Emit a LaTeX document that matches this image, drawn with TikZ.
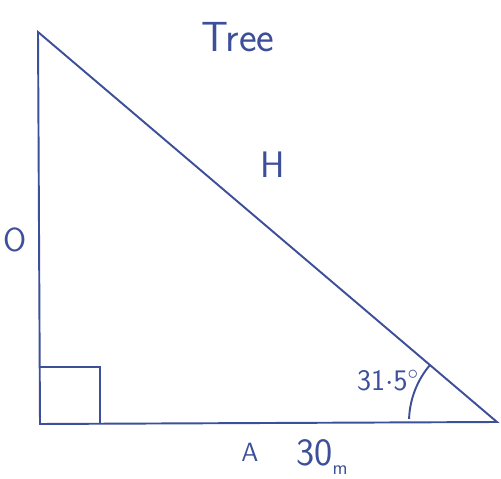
\documentclass[tikz,border=0pt]{standalone}
\usepackage{tikz}
\usetikzlibrary{positioning,calc}
\definecolor{ink}{HTML}{3C4F98}

\begin{document}
\begin{tikzpicture}[
			x=0.02cm, y=-0.02cm,
			side/.style={draw=ink,line width=1.1pt},
			lbl/.style={text=ink,font=\sffamily\fontsize{19}{21}\selectfont,inner sep=1pt}
			]
			\useasboundingbox (0,0) rectangle (501,479);
			\coordinate (top) at (38,32);
			\coordinate (bl) at (40,424);
			\coordinate (br) at (497,422);
			\draw[side] (top) -- (bl) -- (br) -- cycle;
			% right angle mark
			\draw[side] ($(bl)+(0,-57)$) -- ++(60,0) -- ++(0,57);
			% angle arc
			\draw[side] ($(br)+(-67,-57)$) arc[start angle=220.4,end angle=182,radius=88];
			\node[lbl,font=\sffamily\fontsize{24}{26}\selectfont] (tree) at (238,37) {Tree};
			\node[lbl,font=\sffamily\fontsize{21}{23}\selectfont] (hyp) at (273,165) {H};
			\node[lbl] (opp) at (15,240) {O};
			\node[lbl,font=\sffamily\fontsize{15}{17}\selectfont] (adj) at (250,452) {A};
			\node[lbl,font=\sffamily\fontsize{22}{24}\selectfont] (len) at (322,457) {30\raisebox{-0.5ex}{\fontsize{11}{12}\selectfont m}};
			\node[lbl,font=\sffamily\fontsize{17}{19}\selectfont] (ang) at (388,381) {31$\cdot$5$^\circ$};
		\end{tikzpicture}
\end{document}
